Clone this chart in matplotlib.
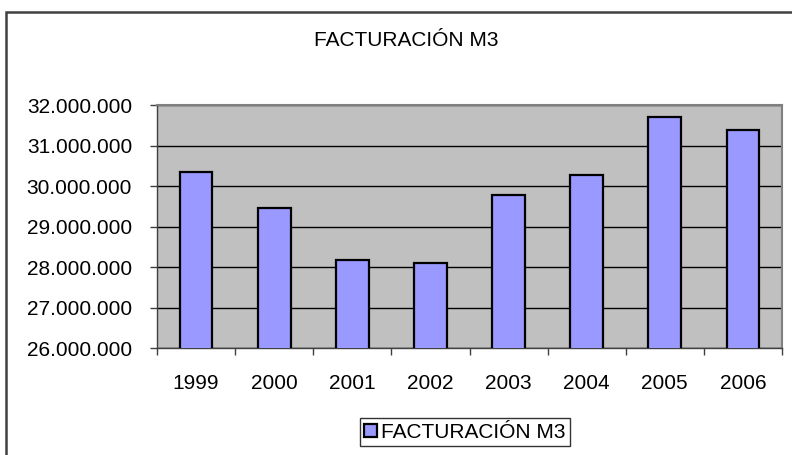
import matplotlib
matplotlib.use("Agg")
import matplotlib.pyplot as plt
from matplotlib.patches import Rectangle
from matplotlib.ticker import FuncFormatter, FixedLocator

# data
years = ["1999", "2000", "2001", "2002", "2003", "2004", "2005", "2006"]
facturacion = [30350000, 29460000, 28170000, 28110000,
               29790000, 30260000, 31700000, 31390000]
title = "FACTURACIÓN M3"

plt.rcParams['font.family'] = ['Liberation Sans', 'DejaVu Sans']
FS = 15

W, H = 792, 455
fig = plt.figure(figsize=(W / 100, H / 100), dpi=100)
fig.patch.set_facecolor("white")

# outer chart frame (runs off the right and bottom edges)
fig.patches.append(Rectangle((6 / W, -0.05), 1.1, 1 - 12 / H + 0.05,
                             transform=fig.transFigure, fill=False,
                             edgecolor="#404040", linewidth=1.8))

ax = fig.add_axes([157 / W, 1 - 348 / H, (782 - 157) / W, (348 - 105) / H])
ax.set_facecolor("#C0C0C0")

x = list(range(len(years)))
ax.set_axisbelow(True)
ax.grid(axis="y", color="black", linewidth=1.0)
ax.bar(x, facturacion, width=0.42, color="#9999FF", edgecolor="black",
       linewidth=1.6, label=title, zorder=3)

ax.set_xlim(-0.5, len(years) - 0.5)
ax.set_ylim(26000000, 32000000)
ax.set_yticks(range(26000000, 32000001, 1000000))
ax.yaxis.set_major_formatter(FuncFormatter(lambda v, p: f"{int(v):,}".replace(",", ".")))

ax.set_xticks(x)
ax.set_xticklabels(years)
ax.xaxis.set_minor_locator(FixedLocator([i - 0.5 for i in range(len(years) + 1)]))
ax.tick_params(axis="x", which="major", length=0, pad=19, labelsize=FS)
ax.tick_params(axis="x", which="minor", length=5, width=1, color="#404040")
ax.tick_params(axis="y", length=5, width=1, color="#404040", pad=13, labelsize=FS)

for side in ["top", "right"]:
    ax.spines[side].set_color("#808080")
    ax.spines[side].set_linewidth(1.5)
for side in ["left", "bottom"]:
    ax.spines[side].set_color("#404040")
    ax.spines[side].set_linewidth(1.0)

fig.text(406 / W, 1 - 40 / H, title, ha="center", va="center", fontsize=FS)

leg = ax.legend(loc="center", bbox_to_anchor=(465 / W, 1 - 432 / H),
                bbox_transform=fig.transFigure, fontsize=FS, frameon=True,
                fancybox=False, handlelength=0.6, handleheight=0.6,
                handletextpad=0.2, borderpad=0.2, borderaxespad=0)
leg.get_frame().set_edgecolor("black")
leg.get_frame().set_linewidth(1.0)

fig.savefig("out.png", dpi=100)
